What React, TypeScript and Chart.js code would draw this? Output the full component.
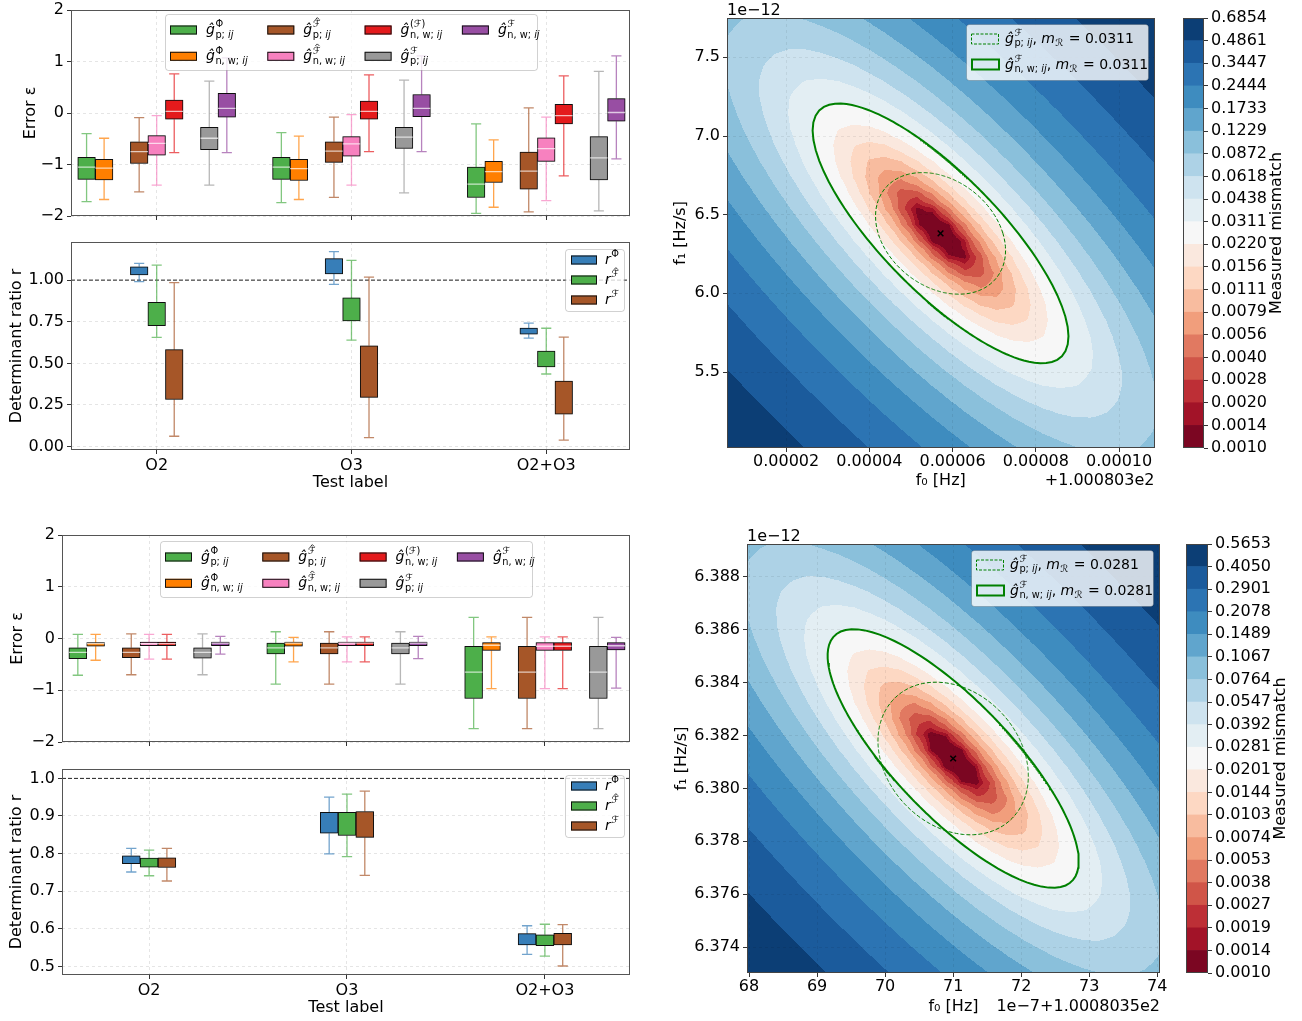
import React, { useEffect, useRef } from 'react';
import { Chart, registerables } from 'chart.js';

Chart.register(...registerables);

const FONT = '"DejaVu Sans", "Liberation Sans", sans-serif';
Chart.defaults.font.family = FONT;
Chart.defaults.color = '#000';

/* =================== DATA =================== */
const TEST_LABELS = ['O2', 'O3', 'O2+O3'];
const GROUP_POS = [0, 1, 2];

// Error boxes per test label: [lower whisker, Q1, median, Q3, upper whisker]
// ---- case 1 (top)
const ERR1_P_PHI = [[-1.72, -1.29, -1.05, -0.86, -0.40], [-1.74, -1.29, -1.05, -0.86, -0.38], [-1.95, -1.64, -1.38, -1.05, -0.21]];
const ERR1_NW_PHI = [[-1.68, -1.30, -1.07, -0.90, -0.49], [-1.68, -1.31, -1.08, -0.90, -0.45], [-1.83, -1.35, -1.14, -0.94, -0.52]];
const ERR1_P_FHAT = [[-1.53, -0.98, -0.75, -0.56, -0.09], [-1.64, -0.96, -0.74, -0.56, -0.08], [-1.92, -1.48, -1.13, -0.76, 0.10]];
const ERR1_NW_FHAT = [[-1.40, -0.82, -0.59, -0.44, -0.05], [-1.40, -0.84, -0.60, -0.46, -0.03], [-1.70, -0.94, -0.69, -0.48, -0.08]];
const ERR1_NW_FPAR = [[-0.77, -0.12, 0.03, 0.25, 0.76], [-0.75, -0.12, 0.03, 0.23, 0.74], [-1.22, -0.21, -0.05, 0.17, 0.72]];
const ERR1_P_F = [[-1.40, -0.71, -0.49, -0.28, 0.62], [-1.55, -0.69, -0.47, -0.28, 0.64], [-1.90, -1.30, -0.87, -0.46, 0.81]];
const ERR1_NW_F = [[-0.77, -0.08, 0.09, 0.38, 1.07], [-0.75, -0.07, 0.09, 0.36, 1.11], [-0.89, -0.16, 0.01, 0.28, 1.11]];
// ---- case 2 (bottom)
const ERR2_P_PHI = [[-0.71, -0.39, -0.27, -0.18, 0.08], [-0.88, -0.30, -0.18, -0.09, 0.13], [-1.74, -1.16, -0.65, -0.15, 0.41]];
const ERR2_NW_PHI = [[-0.42, -0.15, -0.10, -0.08, 0.08], [-0.45, -0.15, -0.09, -0.07, 0.02], [-0.97, -0.23, -0.13, -0.08, 0.03]];
const ERR2_P_FHAT = [[-0.70, -0.37, -0.27, -0.18, 0.09], [-0.88, -0.30, -0.18, -0.09, 0.13], [-1.74, -1.16, -0.65, -0.15, 0.41]];
const ERR2_NW_FHAT = [[-0.40, -0.14, -0.10, -0.07, 0.08], [-0.45, -0.14, -0.09, -0.07, 0.03], [-0.97, -0.23, -0.15, -0.08, 0.03]];
const ERR2_NW_FPAR = [[-0.40, -0.14, -0.10, -0.07, 0.08], [-0.45, -0.14, -0.09, -0.07, 0.03], [-0.97, -0.23, -0.15, -0.08, 0.03]];
const ERR2_P_F = [[-0.70, -0.38, -0.27, -0.18, 0.09], [-0.88, -0.30, -0.18, -0.09, 0.13], [-1.74, -1.16, -0.65, -0.15, 0.41]];
const ERR2_NW_F = [[-0.30, -0.14, -0.09, -0.07, 0.04], [-0.39, -0.14, -0.09, -0.07, 0.04], [-0.96, -0.22, -0.14, -0.08, 0.02]];

// Determinant ratio boxes per test label: [lower whisker, Q1, Q3, upper whisker]
const RATIO1_PHI = [[0.991, 1.031, 1.080, 1.100], [0.974, 1.038, 1.129, 1.171], [0.652, 0.676, 0.712, 0.742]];
const RATIO1_FHAT = [[0.656, 0.726, 0.867, 1.090], [0.640, 0.755, 0.893, 1.119], [0.436, 0.478, 0.574, 0.711]];
const RATIO1_F = [[0.062, 0.283, 0.582, 0.985], [0.054, 0.296, 0.606, 1.018], [0.039, 0.195, 0.394, 0.658]];
const RATIO2_PHI = [[0.751, 0.773, 0.794, 0.814], [0.799, 0.854, 0.910, 0.950], [0.532, 0.557, 0.587, 0.608]];
const RATIO2_FHAT = [[0.741, 0.764, 0.788, 0.809], [0.792, 0.848, 0.910, 0.958], [0.527, 0.555, 0.584, 0.612]];
const RATIO2_F = [[0.727, 0.763, 0.789, 0.814], [0.742, 0.843, 0.912, 0.966], [0.501, 0.557, 0.588, 0.611]];
const RATIO_REFERENCE = 1.0;

const ERR_TICKS = [-2, -1, 0, 1, 2];
const RATIO1_TICKS = [0, 0.25, 0.5, 0.75, 1.0];
const RATIO2_TICKS = [0.5, 0.6, 0.7, 0.8, 0.9, 1.0];

// Contour case 1: f0 offset from 100.0803 Hz, f1 in 1e-12 Hz/s
const C1_CENTER = [0.0000571, 6.381];
const C1_UNIT = [1e-5, 1];
const C1_METRIC_NW = [0.00891, 0.02634, 0.1235];
const C1_METRIC_P = [0.01385, 0.01576, 0.2262];
const C1_M_R = 0.0311;
const C1_SATURATION = 0.27;
const C1_XRANGE = [0.0000058, 0.0001085];
const C1_YRANGE = [5.017, 7.75];
const C1_XTICKS = [0.00002, 0.00004, 0.00006, 0.00008, 0.0001];
const C1_YTICKS = [5.5, 6.0, 6.5, 7.0, 7.5];
const C1_LEVELS = [0.0010, 0.0014, 0.0020, 0.0028, 0.0040, 0.0056, 0.0079, 0.0111, 0.0156, 0.0220, 0.0311, 0.0438, 0.0618, 0.0872, 0.1229, 0.1733, 0.2444, 0.3447, 0.4861, 0.6854];

// Contour case 2: f0 in 1e-7 Hz offset from 100.08035 Hz, f1 in 1e-12 Hz/s
const C2_CENTER = [71.0, 6.38113];
const C2_UNIT = [1, 0.001];
const C2_METRIC_NW = [0.02238, 0.00671, 0.003187];
const C2_METRIC_P = [0.0243, 0.00214, 0.003565];
const C2_M_R = 0.0281;
const C2_SATURATION = 0.43;
const C2_XRANGE = [67.97, 74.04];
const C2_YRANGE = [6.37302, 6.38924];
const C2_XTICKS = [68, 69, 70, 71, 72, 73, 74];
const C2_YTICKS = [6.374, 6.376, 6.378, 6.380, 6.382, 6.384, 6.386, 6.388];
const C2_LEVELS = [0.0010, 0.0014, 0.0019, 0.0027, 0.0038, 0.0053, 0.0074, 0.0103, 0.0144, 0.0201, 0.0281, 0.0392, 0.0547, 0.0764, 0.1067, 0.1489, 0.2078, 0.2901, 0.4050, 0.5653];

/* =================== STYLE =================== */
const SLOT = 0.09;
const CAP = 0.026;
const X_RANGE = [-0.44, 2.43];
const ERR_COLORS = ['#4daf4a', '#ff7f00', '#a65628', '#f781bf', '#e41a1c', '#999999', '#984ea3'];
const ERR_SLOTS = [-4, -3, -1, 0, 1, 3, 4];
const RATIO_COLORS = ['#377eb8', '#4daf4a', '#a65628'];
const RATIO_SLOTS = [-1, 0, 1];
const GRID = 'rgba(0,0,0,0.10)';
const TICK_FONT = { family: FONT, size: 16 };

type Sub = [string, boolean][];
const SUB_P: Sub = [['p; ', false], ['ij', true]];
const SUB_NW: Sub = [['n, w; ', false], ['ij', true]];
const ERR_LEGEND = [
  { sup: 'Φ', hat: false, sub: SUB_P },
  { sup: 'Φ', hat: false, sub: SUB_NW },
  { sup: 'ℱ', hat: true, sub: SUB_P },
  { sup: 'ℱ', hat: true, sub: SUB_NW },
  { sup: '(ℱ)', hat: false, sub: SUB_NW },
  { sup: 'ℱ', hat: false, sub: SUB_P },
  { sup: 'ℱ', hat: false, sub: SUB_NW },
];
const RATIO_LEGEND = [
  { sup: 'Φ', hat: false },
  { sup: 'ℱ', hat: true },
  { sup: 'ℱ', hat: false },
];

/* =================== helpers =================== */
function hexToRgb(h: string) {
  const n = parseInt(h.slice(1), 16);
  return [(n >> 16) & 255, (n >> 8) & 255, n & 255];
}
function withAlpha(h: string, a: number) {
  const [r, g, b] = hexToRgb(h);
  return `rgba(${r},${g},${b},${a})`;
}
const RDBU = ['#67001f', '#b2182b', '#d6604d', '#f4a582', '#fddbc7', '#f7f7f7', '#d1e5f0', '#92c5de', '#4393c3', '#2166ac', '#053061'];
function rdbu(t: number) {
  const x = Math.min(Math.max(t, 0), 1) * (RDBU.length - 1);
  const i = Math.min(Math.floor(x), RDBU.length - 2);
  const f = x - i;
  const c0 = hexToRgb(RDBU[i]);
  const c1 = hexToRgb(RDBU[i + 1]);
  return [0, 1, 2].map((k) => Math.round(c0[k] + (c1[k] - c0[k]) * f));
}
function bandColors(n: number) {
  return Array.from({ length: n }, (_, i) => rdbu((i + 0.5) / n));
}

function drawSym(ctx: CanvasRenderingContext2D, x: number, y: number, base: string, sup: string, hat: boolean, sub: Sub, fs: number) {
  const ss = fs * 0.7;
  ctx.textBaseline = 'alphabetic';
  ctx.textAlign = 'left';
  ctx.font = `italic ${fs}px ${FONT}`;
  ctx.fillText(base, x, y);
  const bw = ctx.measureText(base).width;
  const sx = x + bw + 0.5;
  ctx.font = `${ss}px ${FONT}`;
  let supW = 0;
  if (sup) {
    const supY = y - fs * 0.48;
    ctx.fillText(sup, sx, supY);
    supW = ctx.measureText(sup).width;
    if (hat) {
      const cx = sx + supW / 2 + 0.8;
      const ty = supY - ss * 0.78;
      ctx.save();
      ctx.beginPath();
      ctx.moveTo(cx - 2, ty);
      ctx.lineTo(cx, ty - 2);
      ctx.lineTo(cx + 2, ty);
      ctx.lineWidth = 0.8;
      ctx.strokeStyle = '#000';
      ctx.stroke();
      ctx.restore();
    }
  }
  let cx = sx;
  const subY = y + fs * 0.27;
  for (const [t, it] of sub) {
    ctx.font = `${it ? 'italic ' : ''}${ss}px ${FONT}`;
    ctx.fillText(t, cx, subY);
    cx += ctx.measureText(t).width;
  }
  return Math.max(sx + supW, cx) - x;
}

function legendBox(ctx: CanvasRenderingContext2D, x: number, y: number, w: number, h: number) {
  ctx.save();
  ctx.beginPath();
  (ctx as any).roundRect(x + 0.5, y + 0.5, w, h, 3);
  ctx.fillStyle = 'rgba(255,255,255,0.8)';
  ctx.fill();
  ctx.strokeStyle = 'rgba(0,0,0,0.18)';
  ctx.lineWidth = 1;
  ctx.stroke();
  ctx.restore();
}

function frame(chart: any, color = '#555') {
  const { ctx, chartArea: a } = chart;
  ctx.save();
  ctx.strokeStyle = color;
  ctx.lineWidth = 1;
  ctx.strokeRect(Math.round(a.left) + 0.5, Math.round(a.top) + 0.5, Math.round(a.right - a.left) - 1, Math.round(a.bottom - a.top) - 1);
  ctx.restore();
}

const shadowPlugin = {
  id: 'boxShadow',
  beforeDatasetDraw(chart: any, args: any) {
    const ds = chart.data.datasets[args.index];
    if (ds.type === 'bar') {
      chart.ctx.save();
      chart.ctx.shadowColor = 'rgba(0,0,0,0.35)';
      chart.ctx.shadowBlur = 2.5;
    }
  },
  afterDatasetDraw(chart: any, args: any) {
    const ds = chart.data.datasets[args.index];
    if (ds.type === 'bar') chart.ctx.restore();
  },
};

/* =================== box panels =================== */
function makeBoxChart(canvas: HTMLCanvasElement, p: any) {
  const datasets: any[] = [];
  p.series.forEach((groups: number[][], s: number) => {
    const color = p.colors[s];
    const off = p.slots[s] * SLOT;
    const bars: any[] = [];
    const wh: any[] = [];
    const med: any[] = [];
    groups.forEach((g, gi) => {
      const x = GROUP_POS[gi] + off;
      const lo = g[0];
      const q1 = g[1];
      const q3 = p.withMedian ? g[3] : g[2];
      const hi = p.withMedian ? g[4] : g[3];
      bars.push({ x, y: [q1, q3] });
      wh.push(
        { x, y: lo }, { x, y: q1 }, { x, y: null },
        { x, y: q3 }, { x, y: hi }, { x, y: null },
        { x: x - CAP, y: lo }, { x: x + CAP, y: lo }, { x, y: null },
        { x: x - CAP, y: hi }, { x: x + CAP, y: hi }, { x, y: null },
      );
      if (p.withMedian) med.push({ x: x - SLOT / 2, y: g[2] }, { x: x + SLOT / 2, y: g[2] }, { x, y: null });
    });
    datasets.push({ type: 'bar', data: bars, backgroundColor: color, borderColor: '#111', borderWidth: 1, borderSkipped: false, grouped: false, categoryPercentage: 1, barPercentage: 1, order: 2 });
    datasets.push({ type: 'line', data: wh, borderColor: withAlpha(color, 0.7), borderWidth: 1.3, pointRadius: 0, spanGaps: false, order: 3 });
    if (med.length) datasets.push({ type: 'line', data: med, borderColor: 'rgba(255,255,255,0.7)', borderWidth: 1.3, pointRadius: 0, spanGaps: false, order: 1 });
  });
  if (p.hline !== undefined) {
    datasets.push({ type: 'line', data: [{ x: X_RANGE[0], y: p.hline }, { x: X_RANGE[1], y: p.hline }], borderColor: '#222', borderWidth: 1, borderDash: [4, 2], pointRadius: 0, order: 4 });
  }
  const decor = {
    id: 'decor',
    afterDatasetsDraw(chart: any) {
      frame(chart);
      p.legend(chart);
    },
  };
  return new Chart(canvas, {
    type: 'bar',
    data: { datasets },
    options: {
      animation: false,
      responsive: false,
      events: [],
      layout: { padding: { top: p.padTop, right: 10, bottom: 0, left: 0 } },
      plugins: { legend: { display: false }, tooltip: { enabled: false }, title: { display: false } },
      scales: {
        x: {
          type: 'linear',
          min: X_RANGE[0],
          max: X_RANGE[1],
          offset: false,
          afterBuildTicks: (s: any) => { s.ticks = GROUP_POS.map((v) => ({ value: v })); },
          afterFit: (s: any) => { s.height = p.xAxisH; s.paddingLeft = 0; s.paddingRight = 0; },
          ticks: { display: p.showXLabels, callback: (v: any) => TEST_LABELS[Math.round(Number(v))], font: TICK_FONT, color: '#000', padding: 2, maxRotation: 0, autoSkip: false },
          grid: { color: GRID, lineWidth: 1, offset: false, tickColor: '#333', tickLength: 4, tickWidth: 1 },
          border: { display: false, dash: [3, 3] },
          title: p.showXLabels
            ? { display: true, text: 'Test label', color: '#000', font: TICK_FONT, padding: { top: 0, bottom: p.xTitlePad } }
            : { display: false },
        },
        y: {
          type: 'linear',
          min: p.yMin,
          max: p.yMax,
          afterBuildTicks: (s: any) => { s.ticks = p.yTicks.map((v: number) => ({ value: v })); },
          afterFit: (s: any) => { s.width = p.yAxisW; s.paddingTop = 0; s.paddingBottom = 0; },
          ticks: { callback: (v: any) => p.yFmt(Number(v)), font: TICK_FONT, color: '#000', padding: 3, autoSkip: false },
          grid: { color: GRID, lineWidth: 1, tickColor: '#333', tickLength: 4, tickWidth: 1 },
          border: { display: false, dash: [3, 3] },
          title: { display: true, text: p.yTitle, color: '#000', font: TICK_FONT, padding: { top: p.yTitlePad, bottom: 0 } },
        },
      },
    } as any,
    plugins: [shadowPlugin, decor],
  } as any);
}

function errLegend(topOff: number) {
  return (chart: any) => {
    const { ctx, chartArea: a } = chart;
    const w = 372;
    const h = 56;
    const x0 = Math.round((a.left + a.right) / 2 - w / 2);
    const y0 = Math.round(a.top + topOff);
    legendBox(ctx, x0, y0, w, h);
    ERR_LEGEND.forEach((lab, i) => {
      const col = Math.floor(i / 2);
      const row = i % 2;
      const hx = x0 + 5 + col * 97.3;
      const hy = y0 + 16 + row * 26.3;
      ctx.save();
      ctx.fillStyle = ERR_COLORS[i];
      ctx.fillRect(hx, hy - 4.5, 27, 9);
      ctx.strokeStyle = '#111';
      ctx.lineWidth = 1;
      ctx.strokeRect(hx + 0.5, hy - 4, 26, 8);
      ctx.fillStyle = '#000';
      drawSym(ctx, hx + 36, hy + 4, 'ĝ', lab.sup, lab.hat, lab.sub, 14);
      ctx.restore();
    });
  };
}

function ratioLegend(topOff: number) {
  return (chart: any) => {
    const { ctx, chartArea: a } = chart;
    const w = 59;
    const h = 62;
    const x0 = Math.round(a.right - 6 - w);
    const y0 = Math.round(a.top + topOff);
    legendBox(ctx, x0, y0, w, h);
    RATIO_LEGEND.forEach((lab, i) => {
      const hx = x0 + 6;
      const hy = y0 + 11 + i * 20;
      ctx.save();
      ctx.fillStyle = RATIO_COLORS[i];
      ctx.fillRect(hx, hy - 4.5, 26, 9);
      ctx.strokeStyle = '#111';
      ctx.lineWidth = 1;
      ctx.strokeRect(hx + 0.5, hy - 4, 25, 8);
      ctx.fillStyle = '#000';
      drawSym(ctx, hx + 34, hy + 4, 'r', lab.sup, lab.hat, [], 14);
      ctx.restore();
    });
  };
}

/* =================== contour panels =================== */
function ellipsePoints(center: number[], unit: number[], metric: number[], m: number) {
  const [a, b, c] = metric;
  const pts: any[] = [];
  const n = 360;
  for (let k = 0; k <= n; k++) {
    const th = (2 * Math.PI * k) / n;
    const cu = Math.cos(th);
    const sv = Math.sin(th);
    const q = a * cu * cu + 2 * b * cu * sv + c * sv * sv;
    const r = Math.sqrt(m / q);
    pts.push({ x: center[0] + r * cu * unit[0], y: center[1] + r * sv * unit[1] });
  }
  return pts;
}

function makeContourChart(canvas: HTMLCanvasElement, c: any) {
  const field = (x: number, y: number) => {
    const u = (x - c.center[0]) / c.unit[0];
    const v = (y - c.center[1]) / c.unit[1];
    const [a, b, cc] = c.metricNW;
    const q = a * u * u + 2 * b * u * v + cc * v * v;
    return q / (1 + c.sat * q);
  };
  const fieldPlugin = {
    id: 'mismatchField',
    beforeDatasetsDraw(chart: any) {
      const { ctx, chartArea: a, scales } = chart;
      const xs = scales.x;
      const ys = scales.y;
      const L = Math.round(a.left);
      const T = Math.round(a.top);
      const W = Math.round(a.right) - L;
      const H = Math.round(a.bottom) - T;
      const N = 28;
      const [x0, x1] = c.xRange;
      const [y0, y1] = c.yRange;
      const gv = new Float64Array(N * N);
      for (let j = 0; j < N; j++) {
        for (let i = 0; i < N; i++) {
          gv[j * N + i] = field(x0 + ((x1 - x0) * i) / (N - 1), y0 + ((y1 - y0) * j) / (N - 1));
        }
      }
      const cols = bandColors(c.levels.length - 1);
      const img = ctx.createImageData(W, H);
      const d = img.data;
      for (let py = 0; py < H; py++) {
        const yv = ys.getValueForPixel(T + py + 0.5);
        let fy = ((yv - y0) / (y1 - y0)) * (N - 1);
        fy = Math.min(Math.max(fy, 0), N - 1 - 1e-9);
        const j = Math.floor(fy);
        const ty = fy - j;
        for (let px = 0; px < W; px++) {
          const xv = xs.getValueForPixel(L + px + 0.5);
          let fx = ((xv - x0) / (x1 - x0)) * (N - 1);
          fx = Math.min(Math.max(fx, 0), N - 1 - 1e-9);
          const i = Math.floor(fx);
          const tx = fx - i;
          const v00 = gv[j * N + i];
          const v10 = gv[j * N + i + 1];
          const v01 = gv[(j + 1) * N + i];
          const v11 = gv[(j + 1) * N + i + 1];
          const m = (v00 * (1 - tx) + v10 * tx) * (1 - ty) + (v01 * (1 - tx) + v11 * tx) * ty;
          let band = 0;
          while (band < cols.length - 1 && m >= c.levels[band + 1]) band++;
          const k = (py * W + px) * 4;
          d[k] = cols[band][0];
          d[k + 1] = cols[band][1];
          d[k + 2] = cols[band][2];
          d[k + 3] = 255;
        }
      }
      ctx.putImageData(img, L, T);
    },
  };
  const decor = {
    id: 'contourDecor',
    afterDraw(chart: any) {
      const { ctx, chartArea: a } = chart;
      frame(chart, '#444');
      ctx.save();
      ctx.fillStyle = '#000';
      ctx.font = `16px ${FONT}`;
      ctx.textAlign = 'left';
      ctx.textBaseline = 'alphabetic';
      ctx.fillText('1e−12', a.left, a.top - 3);
      ctx.textAlign = 'right';
      ctx.textBaseline = 'middle';
      ctx.fillText(c.offsetText, a.right, chart.height - c.xTitlePad - 9.6);
      // legend
      const w = 182;
      const h = 56;
      const x0 = Math.round(a.right - 7 - w);
      const y0 = Math.round(a.top + 6);
      legendBox(ctx, x0, y0, w, h);
      const hx = x0 + 5;
      const r1 = y0 + 14.5;
      const r2 = y0 + 40.5;
      ctx.strokeStyle = '#008000';
      ctx.lineWidth = 1;
      ctx.setLineDash([3, 1.5]);
      ctx.strokeRect(hx + 0.5, r1 - 5 + 0.5, 27, 10);
      ctx.setLineDash([]);
      ctx.lineWidth = 2;
      ctx.strokeRect(hx + 1, r2 - 5, 27, 10);
      ctx.fillStyle = '#000';
      [[r1, SUB_P], [r2, SUB_NW]].forEach(([ry, sub]: any) => {
        let tx = x0 + 39;
        const by = ry + 4;
        tx += drawSym(ctx, tx, by, 'ĝ', 'ℱ', false, sub, 14);
        ctx.font = `14px ${FONT}`;
        ctx.fillText(', ', tx, by);
        tx += ctx.measureText(', ').width;
        tx += drawSym(ctx, tx, by, 'm', '', false, [['ℛ', false]], 14);
        ctx.font = `14px ${FONT}`;
        ctx.fillText(` = ${c.mR.toFixed(4)}`, tx + 1, by);
      });
      ctx.restore();
    },
  };
  return new Chart(canvas, {
    type: 'scatter',
    data: {
      datasets: [
        { label: 'p', data: ellipsePoints(c.center, c.unit, c.metricP, c.mR), showLine: true, borderColor: '#008000', borderWidth: 1, borderDash: [4, 2], pointRadius: 0, fill: false },
        { label: 'nw', data: ellipsePoints(c.center, c.unit, c.metricNW, c.mR), showLine: true, borderColor: '#008000', borderWidth: 2, pointRadius: 0, fill: false },
        { label: 'true', data: [{ x: c.center[0], y: c.center[1] }], showLine: false, pointStyle: 'crossRot', pointRadius: 4, borderColor: '#000', backgroundColor: '#000', borderWidth: 1.5 },
      ],
    },
    options: {
      animation: false,
      responsive: false,
      events: [],
      layout: { padding: { top: c.padTop, right: c.padRight, bottom: 0, left: 0 } },
      plugins: { legend: { display: false }, tooltip: { enabled: false } },
      scales: {
        x: {
          type: 'linear',
          min: c.xRange[0],
          max: c.xRange[1],
          afterBuildTicks: (s: any) => { s.ticks = c.xTicks.map((v: number) => ({ value: v })); },
          afterFit: (s: any) => { s.height = c.xAxisH; s.paddingLeft = 0; s.paddingRight = 0; },
          ticks: { callback: (v: any) => c.xFmt(Number(v)), font: TICK_FONT, color: '#000', padding: 0, maxRotation: 0, autoSkip: false },
          grid: { color: 'rgba(0,0,0,0.07)', z: 1, tickColor: '#333', tickLength: 4 },
          border: { display: false, dash: [3, 3] },
          title: { display: true, text: 'f₀ [Hz]', color: '#000', font: TICK_FONT, padding: { top: 0, bottom: c.xTitlePad } },
        },
        y: {
          type: 'linear',
          min: c.yRange[0],
          max: c.yRange[1],
          afterBuildTicks: (s: any) => { s.ticks = c.yTicks.map((v: number) => ({ value: v })); },
          afterFit: (s: any) => { s.width = c.yAxisW; s.paddingTop = 0; s.paddingBottom = 0; },
          ticks: { callback: (v: any) => c.yFmt(Number(v)), font: TICK_FONT, color: '#000', padding: 3, autoSkip: false },
          grid: { color: 'rgba(0,0,0,0.07)', z: 1, tickColor: '#333', tickLength: 4 },
          border: { display: false, dash: [3, 3] },
          title: { display: true, text: 'f₁ [Hz/s]', color: '#000', font: TICK_FONT, padding: { top: c.yTitlePad, bottom: 0 } },
        },
      },
    } as any,
    plugins: [fieldPlugin, decor],
  } as any);
}

function makeColorbar(canvas: HTMLCanvasElement, cb: any) {
  const cols = bandColors(cb.levels.length - 1);
  const decor = {
    id: 'cbDecor',
    afterDraw(chart: any) {
      const { ctx, chartArea: a } = chart;
      frame(chart, '#444');
      ctx.save();
      ctx.translate(cb.labelX, (a.top + a.bottom) / 2);
      ctx.rotate(-Math.PI / 2);
      ctx.fillStyle = '#000';
      ctx.font = `16px ${FONT}`;
      ctx.textAlign = 'center';
      ctx.textBaseline = 'middle';
      ctx.fillText('Measured mismatch', 0, 0);
      ctx.restore();
    },
  };
  return new Chart(canvas, {
    type: 'bar',
    data: {
      labels: [''],
      datasets: cols.map((col) => ({
        data: [1],
        backgroundColor: `rgb(${col[0]},${col[1]},${col[2]})`,
        borderWidth: 0,
        barPercentage: 1,
        categoryPercentage: 1,
        stack: 'cb',
      })),
    },
    options: {
      animation: false,
      responsive: false,
      events: [],
      layout: { padding: { top: cb.padTop, left: cb.padLeft, right: 0, bottom: cb.padBottom } },
      plugins: { legend: { display: false }, tooltip: { enabled: false } },
      scales: {
        x: { display: false, stacked: true },
        y: {
          stacked: true,
          position: 'right',
          min: 0,
          max: cb.levels.length - 1,
          afterBuildTicks: (s: any) => { s.ticks = cb.levels.map((_: number, i: number) => ({ value: i })); },
          afterFit: (s: any) => { s.width = cb.axisW; s.paddingTop = 0; s.paddingBottom = 0; },
          ticks: { callback: (v: any) => cb.levels[Math.round(Number(v))].toFixed(4), font: TICK_FONT, color: '#000', padding: 3, autoSkip: false },
          grid: { drawOnChartArea: false, tickColor: '#333', tickLength: 4 },
          border: { display: false },
        },
      },
    } as any,
    plugins: [decor],
  } as any);
}

/* =================== App =================== */
const minus = (s: string) => s.replace('-', '−');

export default function App() {
  const r1 = useRef<HTMLCanvasElement>(null);
  const r2 = useRef<HTMLCanvasElement>(null);
  const r3 = useRef<HTMLCanvasElement>(null);
  const r4 = useRef<HTMLCanvasElement>(null);
  const r5 = useRef<HTMLCanvasElement>(null);
  const r6 = useRef<HTMLCanvasElement>(null);
  const r7 = useRef<HTMLCanvasElement>(null);
  const r8 = useRef<HTMLCanvasElement>(null);

  useEffect(() => {
    const charts: Chart[] = [];
    charts.push(makeBoxChart(r1.current!, {
      series: [ERR1_P_PHI, ERR1_NW_PHI, ERR1_P_FHAT, ERR1_NW_FHAT, ERR1_NW_FPAR, ERR1_P_F, ERR1_NW_F],
      colors: ERR_COLORS, slots: ERR_SLOTS, withMedian: true,
      yMin: -2, yMax: 2, yTicks: ERR_TICKS, yFmt: (v: number) => minus(String(v)),
      yTitle: 'Error ε', yTitlePad: 21, yAxisW: 71, padTop: 10, xAxisH: 14, showXLabels: false,
      legend: errLegend(4),
    }));
    charts.push(makeBoxChart(r2.current!, {
      series: [RATIO1_PHI, RATIO1_FHAT, RATIO1_F],
      colors: RATIO_COLORS, slots: RATIO_SLOTS, withMedian: false,
      yMin: -0.0205, yMax: 1.229, yTicks: RATIO1_TICKS, yFmt: (v: number) => v.toFixed(2),
      yTitle: 'Determinant ratio r', yTitlePad: 7.4, yAxisW: 71, padTop: 7, xAxisH: 45, showXLabels: true, xTitlePad: 2.4,
      hline: RATIO_REFERENCE, legend: ratioLegend(7),
    }));
    charts.push(makeBoxChart(r3.current!, {
      series: [ERR2_P_PHI, ERR2_NW_PHI, ERR2_P_FHAT, ERR2_NW_FHAT, ERR2_NW_FPAR, ERR2_P_F, ERR2_NW_F],
      colors: ERR_COLORS, slots: ERR_SLOTS, withMedian: true,
      yMin: -2, yMax: 2, yTicks: ERR_TICKS, yFmt: (v: number) => minus(String(v)),
      yTitle: 'Error ε', yTitlePad: 8.4, yAxisW: 62, padTop: 10, xAxisH: 13, showXLabels: false,
      legend: errLegend(6),
    }));
    charts.push(makeBoxChart(r4.current!, {
      series: [RATIO2_PHI, RATIO2_FHAT, RATIO2_F],
      colors: RATIO_COLORS, slots: RATIO_SLOTS, withMedian: false,
      yMin: 0.477, yMax: 1.025, yTicks: RATIO2_TICKS, yFmt: (v: number) => v.toFixed(1),
      yTitle: 'Determinant ratio r', yTitlePad: 7.4, yAxisW: 62, padTop: 9, xAxisH: 46, showXLabels: true, xTitlePad: 3.4,
      hline: RATIO_REFERENCE, legend: ratioLegend(6),
    }));
    charts.push(makeContourChart(r5.current!, {
      center: C1_CENTER, unit: C1_UNIT, metricNW: C1_METRIC_NW, metricP: C1_METRIC_P, mR: C1_M_R, sat: C1_SATURATION,
      xRange: C1_XRANGE, yRange: C1_YRANGE, xTicks: C1_XTICKS, yTicks: C1_YTICKS, levels: C1_LEVELS,
      xFmt: (v: number) => v.toFixed(5), yFmt: (v: number) => v.toFixed(1),
      padTop: 18, padRight: 3, yAxisW: 67, xAxisH: 52, xTitlePad: 9.9, yTitlePad: 11.4,
      offsetText: '+1.000803e2',
    }));
    charts.push(makeColorbar(r6.current!, { levels: C1_LEVELS, padTop: 18, padLeft: 13, padBottom: 52, axisW: 98, labelX: 107 }));
    charts.push(makeContourChart(r7.current!, {
      center: C2_CENTER, unit: C2_UNIT, metricNW: C2_METRIC_NW, metricP: C2_METRIC_P, mR: C2_M_R, sat: C2_SATURATION,
      xRange: C2_XRANGE, yRange: C2_YRANGE, xTicks: C2_XTICKS, yTicks: C2_YTICKS, levels: C2_LEVELS,
      xFmt: (v: number) => String(Math.round(v)), yFmt: (v: number) => v.toFixed(3),
      padTop: 24, padRight: 10, yAxisW: 87, xAxisH: 48, xTitlePad: 4.4, yTitlePad: 12.4,
      offsetText: '1e−7+1.0008035e2',
    }));
    charts.push(makeColorbar(r8.current!, { levels: C2_LEVELS, padTop: 24, padLeft: 16, padBottom: 48, axisW: 94, labelX: 111 }));
    return () => charts.forEach((c) => c.destroy());
  }, []);

  const abs = (left: number, top: number) => ({ position: 'absolute' as const, left, top });
  return (
    <div style={{ position: 'absolute', left: 0, top: 0, width: 1302, height: 1021, background: '#fff', overflow: 'hidden' }}>
      <canvas ref={r1} width={640} height={230} style={abs(0, 0)} />
      <canvas ref={r2} width={640} height={260} style={abs(0, 235)} />
      <canvas ref={r3} width={640} height={230} style={abs(0, 525)} />
      <canvas ref={r4} width={640} height={261} style={abs(0, 760)} />
      <canvas ref={r5} width={500} height={500} style={abs(660, 0)} />
      <canvas ref={r6} width={132} height={500} style={abs(1170, 0)} />
      <canvas ref={r7} width={510} height={501} style={abs(660, 520)} />
      <canvas ref={r8} width={132} height={501} style={abs(1170, 520)} />
    </div>
  );
}
